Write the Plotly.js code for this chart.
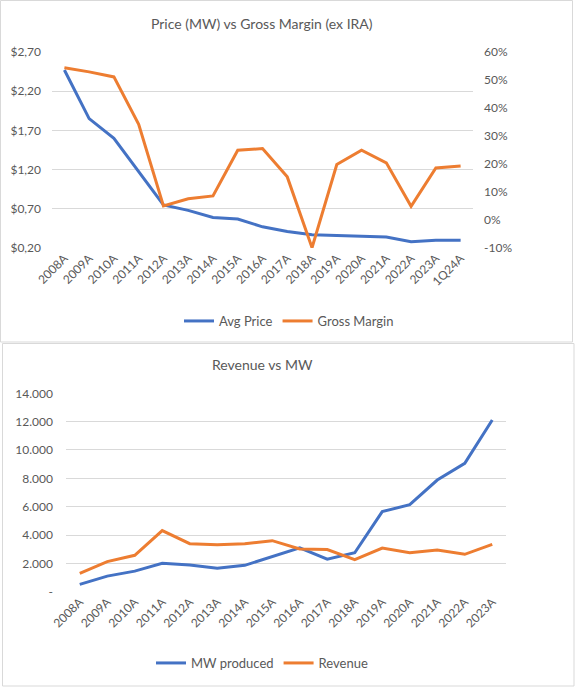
<!DOCTYPE html>
<html>
<head>
<meta charset="utf-8">
<script src="https://cdn.plot.ly/plotly-3.0.1.min.js"></script>
<style>
  html, body { margin: 0; padding: 0; background: #fff; }
  #chart { width: 575px; height: 687px; }
</style>
</head>
<body>
<div id="chart"></div>
<script>
// ---- Data: top chart ----
const priceCategories = ["2008A","2009A","2010A","2011A","2012A","2013A","2014A","2015A","2016A","2017A","2018A","2019A","2020A","2021A","2022A","2023A","1Q24A"];
const avgPrice = [2.47, 1.85, 1.60, 1.17, 0.75, 0.68, 0.59, 0.57, 0.47, 0.41, 0.37, 0.36, 0.35, 0.34, 0.28, 0.30, 0.30];
const grossMargin = [54.4, 52.9, 51.1, 34.2, 5.0, 7.6, 8.6, 24.9, 25.5, 15.4, -9.9, 19.8, 24.9, 20.4, 4.9, 18.6, 19.3];
const priceTickVals = [0.2, 0.7, 1.2, 1.7, 2.2, 2.7];
const priceTickText = ["$0,20", "$0,70", "$1,20", "$1,70", "$2,20", "$2,70"];
const marginTickVals = [-10, 0, 10, 20, 30, 40, 50, 60];
const marginTickText = ["-10%", "0%", "10%", "20%", "30%", "40%", "50%", "60%"];

// ---- Data: bottom chart ----
const revCategories = ["2008A","2009A","2010A","2011A","2012A","2013A","2014A","2015A","2016A","2017A","2018A","2019A","2020A","2021A","2022A","2023A"];
const mwProduced = [520, 1100, 1450, 2000, 1880, 1650, 1860, 2500, 3100, 2300, 2750, 5650, 6140, 7880, 9060, 12120];
const revenue = [1290, 2120, 2570, 4310, 3390, 3320, 3390, 3600, 3010, 2970, 2260, 3080, 2750, 2940, 2640, 3340];
const revTickVals = [0, 2000, 4000, 6000, 8000, 10000, 12000, 14000];
const revTickText = ["-", "2.000", "4.000", "6.000", "8.000", "10.000", "12.000", "14.000"];

const W = 575, H = 687;
const px = x => x / W;
const py = y => 1 - y / H;

const BLUE = "#4472C4", ORANGE = "#ED7D31", GRAY = "#595959", GRID = "#d9d9d9";
const FONT = "Lato, 'Open Sans', sans-serif";

const traces = [
  { x: priceCategories, y: avgPrice, name: "Avg Price", type: "scatter", mode: "lines",
    line: { color: BLUE, width: 3 }, xaxis: "x", yaxis: "y", legend: "legend" },
  { x: priceCategories, y: grossMargin, name: "Gross Margin", type: "scatter", mode: "lines",
    line: { color: ORANGE, width: 3 }, xaxis: "x", yaxis: "y2", legend: "legend" },
  { x: revCategories, y: mwProduced, name: "MW produced", type: "scatter", mode: "lines",
    line: { color: BLUE, width: 3 }, xaxis: "x2", yaxis: "y3", legend: "legend2" },
  { x: revCategories, y: revenue, name: "Revenue", type: "scatter", mode: "lines",
    line: { color: ORANGE, width: 3 }, xaxis: "x2", yaxis: "y3", legend: "legend2" }
];

const tickFont = { family: FONT, size: 12, color: GRAY };

const layout = {
  width: W, height: H,
  margin: { l: 0, r: 0, t: 0, b: 0 },
  paper_bgcolor: "#fff", plot_bgcolor: "#fff",
  font: { family: FONT, color: GRAY },
  xaxis: {
    domain: [px(52), px(473)], anchor: "y", type: "category",
    range: [-0.5, 16.5], showgrid: false, zeroline: false, showline: false,
    tickangle: -45, tickfont: tickFont, ticks: ""
  },
  yaxis: {
    domain: [py(248), py(52)], anchor: "x", range: [0.2, 2.7],
    tickvals: priceTickVals, ticktext: priceTickText, tickfont: tickFont,
    showgrid: true, gridcolor: GRID, gridwidth: 1, zeroline: false, showline: false,
    ticklabelstandoff: 10
  },
  yaxis2: {
    anchor: "x", overlaying: "y", side: "right", range: [-10, 60],
    tickvals: marginTickVals, ticktext: marginTickText, tickfont: tickFont,
    showgrid: false, zeroline: false, showline: false, ticklabelstandoff: 10
  },
  xaxis2: {
    domain: [px(66), px(506)], anchor: "y3", type: "category",
    range: [-0.5, 15.5], showgrid: false, zeroline: false, showline: false,
    tickangle: -45, tickfont: tickFont, ticks: ""
  },
  yaxis3: {
    domain: [py(591.7), py(393.3)], anchor: "x2", range: [0, 14000],
    tickvals: revTickVals, ticktext: revTickText, tickfont: tickFont,
    showgrid: true, gridcolor: GRID, gridwidth: 1, zeroline: false, showline: false,
    ticklabelstandoff: 12
  },
  legend: {
    orientation: "h", x: px(289), xanchor: "center", y: py(321), yanchor: "middle",
    font: { family: FONT, size: 13, color: GRAY }, itemwidth: 30, bgcolor: "rgba(0,0,0,0)"
  },
  legend2: {
    orientation: "h", x: px(262), xanchor: "center", y: py(663), yanchor: "middle",
    font: { family: FONT, size: 13, color: GRAY }, itemwidth: 30, bgcolor: "rgba(0,0,0,0)"
  },
  annotations: [
    { text: "Price (MW) vs Gross Margin (ex IRA)", xref: "paper", yref: "paper",
      x: px(262), y: py(23), xanchor: "center", yanchor: "middle", showarrow: false,
      font: { family: FONT, size: 14, color: GRAY } },
    { text: "Revenue vs MW", xref: "paper", yref: "paper",
      x: px(262), y: py(364), xanchor: "center", yanchor: "middle", showarrow: false,
      font: { family: FONT, size: 14, color: GRAY } }
  ],
  shapes: [
    { type: "rect", xref: "paper", yref: "paper", x0: px(0.5), x1: px(572.5), y0: py(342), y1: py(0.5),
      line: { color: GRID, width: 1 }, fillcolor: "rgba(0,0,0,0)" },
    { type: "rect", xref: "paper", yref: "paper", x0: px(2.5), x1: px(574), y0: py(686), y1: py(343.5),
      line: { color: GRID, width: 1 }, fillcolor: "rgba(0,0,0,0)" }
  ],
  showlegend: true
};

Plotly.newPlot("chart", traces, layout, { displayModeBar: false, staticPlot: true });
</script>
</body>
</html>
